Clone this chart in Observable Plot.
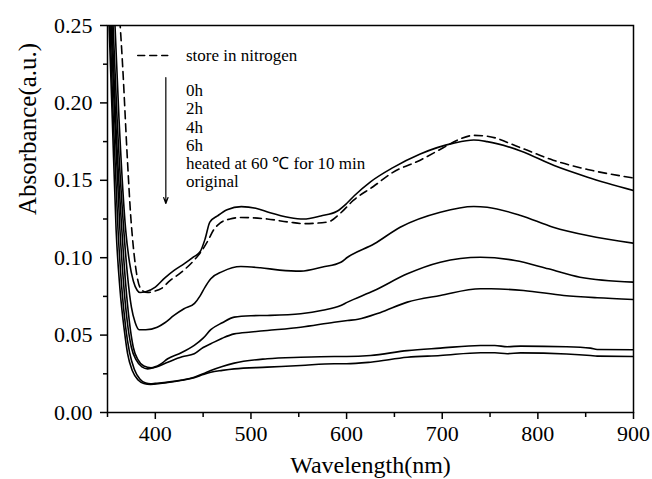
<!DOCTYPE html>
<html><head><meta charset="utf-8">
<script src="https://cdn.jsdelivr.net/npm/d3@7"></script>
<script src="https://cdn.jsdelivr.net/npm/@observablehq/plot@0.6"></script>
<style>
body{margin:0;background:#fff}
svg, svg text {font-family: "Liberation Serif", "Times New Roman", serif !important;}
</style>
</head><body><div id="chart"></div>
<script>
// ---- data ----
const seriesNames = ["store in nitrogen", "0h", "2h", "4h", "6h", "heated at 60 \u2103 for 10 min", "original"];

const wlNitrogen = [362,366,370.5,374.5,377,381.5,386,392,400,406,415,427,440,448,455,461,468,478,490,517,540,555,580,594,607,628,648,677,701,716,733,747,782,816,852,900];
const absNitrogen = [0.262,0.222,0.167,0.125,0.107,0.086,0.079,0.0775,0.0785,0.080,0.085,0.0905,0.098,0.104,0.111,0.118,0.1225,0.125,0.126,0.125,0.123,0.122,0.123,0.129,0.137,0.146,0.155,0.163,0.171,0.176,0.179,0.1785,0.171,0.163,0.157,0.1515];

const wl0h = [357,362,369,373,377,381,384,390,400,410,420,430,440,447,452,457,465,475,490,505,520,540,555,573,590,600,608,625,648,677,712,733,747,782,817,852,900];
const abs0h = [0.262,0.19,0.118,0.097,0.085,0.079,0.0775,0.078,0.081,0.087,0.092,0.096,0.1005,0.104,0.112,0.123,0.127,0.131,0.133,0.132,0.129,0.126,0.125,0.127,0.130,0.135,0.140,0.149,0.158,0.167,0.174,0.176,0.175,0.169,0.1595,0.152,0.1434];

const wl2h = [355,360,367,371,375,379,383,390,402,410,419.5,430,441,447,452,458,470,489.5,510,530,552,575,594,601,629,656,698,733,747,782,816,852,900];
const abs2h = [0.262,0.19,0.118,0.088,0.068,0.058,0.0535,0.0535,0.0551,0.058,0.0627,0.067,0.0705,0.0755,0.081,0.0864,0.091,0.0943,0.0935,0.092,0.0913,0.094,0.0971,0.1003,0.109,0.1197,0.1294,0.1331,0.1326,0.1273,0.1197,0.1143,0.1094];

const wl4h = [354,358.5,365,369,373,377,382,388,395.5,405,413,425,440.7,450,458,470,482.5,500,517,552,575,594,601,629,663.5,698,740,776,811,844,900];
const abs4h = [0.262,0.19,0.118,0.083,0.058,0.042,0.034,0.030,0.0289,0.031,0.0347,0.038,0.0433,0.048,0.0535,0.058,0.0616,0.0625,0.0627,0.0638,0.066,0.0691,0.0713,0.0788,0.0896,0.0971,0.1003,0.0982,0.0928,0.0874,0.0842];

const wl6h = [353,357.5,363,367,371,375,380,386,392,400,413,428,440.7,450,458,470,482.5,500,517,552,587,601,612,635,663.5,698,740,751,785,827,862,900];
const abs6h = [0.262,0.19,0.118,0.082,0.057,0.042,0.034,0.0295,0.0282,0.0292,0.0325,0.036,0.0379,0.042,0.0444,0.048,0.0508,0.052,0.053,0.0551,0.0583,0.0594,0.0602,0.0645,0.0713,0.0756,0.0799,0.0799,0.0788,0.0756,0.0741,0.073];

const wlHeated = [352,356,361,365,369,373,378,384,390,395,400,413,428,440.7,450,458,470,482.5,517,552,587,600,625,663.5,698,740,755,768,782,830,855,862,900];
const absHeated = [0.262,0.19,0.118,0.08,0.055,0.039,0.028,0.0215,0.019,0.0185,0.0188,0.0196,0.021,0.0228,0.025,0.0271,0.0297,0.0319,0.0347,0.0357,0.0362,0.0362,0.0368,0.040,0.0416,0.0433,0.0433,0.0425,0.0429,0.0425,0.0416,0.0407,0.0405];

const wlOriginal = [351,355,359,363,367.6,371,376,382,388,395,405,415,428,440.7,450,458,470,482.5,517,552,587,600,625,663.5,698,740,755,768,782,830,855,862,900];
const absOriginal = [0.262,0.19,0.118,0.08,0.053,0.038,0.027,0.021,0.0188,0.0182,0.0187,0.0195,0.0208,0.0225,0.0245,0.026,0.0272,0.0282,0.0293,0.0304,0.0315,0.0315,0.0325,0.0357,0.0368,0.0386,0.0386,0.0380,0.0385,0.0378,0.0368,0.0364,0.0362];

const xTicks = [400, 500, 600, 700, 800, 900];
const xMinorTicks = [350, 450, 550, 650, 750, 850];
const yTicks = [0, 0.05, 0.10, 0.15, 0.20, 0.25];
const yMinorTicks = [0.025, 0.075, 0.125, 0.175, 0.225];

// ---- build tables ----
const rows = (name, wl, ab) => wl.map((w, i) => ({series: name, wl: w, abs: ab[i]}));
const dashed = rows(seriesNames[0], wlNitrogen, absNitrogen);
const solid = [
  ...rows(seriesNames[1], wl0h, abs0h),
  ...rows(seriesNames[2], wl2h, abs2h),
  ...rows(seriesNames[3], wl4h, abs4h),
  ...rows(seriesNames[4], wl6h, abs6h),
  ...rows(seriesNames[5], wlHeated, absHeated),
  ...rows(seriesNames[6], wlOriginal, absOriginal)
];

// legend layout (in data units)
const legX = 432, legY0 = 0.2306, legY1 = 0.2080, legStep = 0.01182;
const legendSolid = seriesNames.slice(1).map((s, i) => ({label: s, y: legY1 - i * legStep}));
const FF = "Liberation Serif";

const chart = Plot.plot({
  width: 652, height: 479,
  marginLeft: 107, marginRight: 19, marginTop: 25, marginBottom: 67,
  style: {fontFamily: FF, background: "white", color: "black"},
  x: {domain: [350, 900]},
  y: {domain: [0, 0.25]},
  marks: [
    Plot.line(solid, {x: "wl", y: "abs", z: "series", stroke: "black", strokeWidth: 1.6, curve: "monotone-x", clip: true}),
    Plot.line(dashed, {x: "wl", y: "abs", stroke: "black", strokeWidth: 1.6, strokeDasharray: "8,5", curve: "monotone-x", clip: true}),
    Plot.frame({stroke: "black", strokeWidth: 1.5}),
    Plot.axisY(yTicks, {tickSize: 7, tickPadding: 8, strokeWidth: 1.5, fontSize: 22, fontFamily: FF, tickFormat: d3.format(".2f"), label: null}),
    Plot.axisY(yMinorTicks, {tickSize: 4, strokeWidth: 1.5, tickFormat: () => "", label: null}),
    Plot.axisX(xTicks, {tickSize: 7, tickPadding: 6, strokeWidth: 1.5, fontSize: 22, fontFamily: FF, tickFormat: d3.format("d"), label: null}),
    Plot.axisX(xMinorTicks, {tickSize: 5, strokeWidth: 1.5, tickFormat: () => "", label: null}),
    Plot.text(["Wavelength(nm)"], {frameAnchor: "bottom", text: d => d, dy: 53, fontSize: 24, fontFamily: FF, lineAnchor: "middle"}),
    Plot.text(["Absorbance(a.u.)"], {frameAnchor: "left", text: d => d, rotate: -90, dx: -80, dy: -4, fontSize: 25, fontFamily: FF, lineAnchor: "middle"}),
    // legend
    Plot.line([{x: 381.6, y: legY0}, {x: 413, y: legY0}], {x: "x", y: "y", stroke: "black", strokeWidth: 1.5, strokeDasharray: "7,5"}),
    Plot.text([{label: seriesNames[0], y: legY0}], {x: () => legX, y: "y", text: "label", textAnchor: "start", fontSize: 17, fontFamily: FF, lineAnchor: "middle"}),
    Plot.text(legendSolid, {x: () => legX, y: "y", text: "label", textAnchor: "start", fontSize: 17, fontFamily: FF, lineAnchor: "middle"}),
    Plot.arrow([{x: 411, y1: 0.2164, y2: 0.135}], {x1: "x", x2: "x", y1: "y1", y2: "y2", stroke: "black", strokeWidth: 1.2, headLength: 8, headAngle: 40})
  ]
});
document.getElementById("chart").appendChild(chart);
</script>
</body></html>
